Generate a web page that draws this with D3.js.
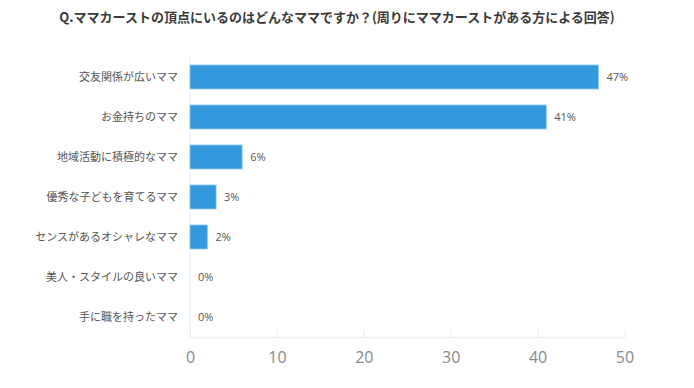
<!DOCTYPE html>
<html>
<head>
<meta charset="utf-8">
<script src="https://cdn.jsdelivr.net/npm/d3@7"></script>
<style>
  body { margin: 0; background: #fff; }
  svg { font-family: "Noto Sans CJK JP", "Noto Sans", sans-serif; }
</style>
</head>
<body>
<svg id="chart" width="694" height="388"></svg>
<script>
// Data
const categories = [
  '交友関係が広いママ',
  'お金持ちのママ',
  '地域活動に積極的なママ',
  '優秀な子どもを育てるママ',
  'センスがあるオシャレなママ',
  '美人・スタイルの良いママ',
  '手に職を持ったママ'
];
const values = [47, 41, 6, 3, 2, 0, 0];
const xTicks = [0, 10, 20, 30, 40, 50];
const title = 'Q.ママカーストの頂点にいるのはどんなママですか？(周りにママカーストがある方による回答)';

const svg = d3.select('#chart');
const margins = { left: 190, right: 70, top: 57, bottom: 51 };
const width = 694, height = 388;

const x = d3.scaleLinear().domain([0, 50]).range([margins.left, width - margins.right + 0.5]);
const y = d3.scaleBand().domain(categories).range([margins.top, height - margins.bottom])
  .paddingInner(0.4).paddingOuter(0.2);

// Title
svg.append('text')
  .attr('x', 337)
  .attr('y', 22)
  .attr('text-anchor', 'middle')
  .style('font-size', '13px')
  .style('font-weight', 'bold')
  .style('fill', '#3a3a3a')
  .text(title);

// X axis (ticks only, no grid)
const xAxis = svg.append('g')
  .attr('transform', `translate(0, ${height - margins.bottom})`)
  .call(d3.axisBottom(x).tickValues(xTicks).tickSize(0).tickPadding(15));
xAxis.select('.domain').attr('stroke', '#e6ecf4');
xAxis.selectAll('.tick text')
  .style('font-size', '16px')
  .style('fill', '#8a8a8a')
  .style('font-family', '"Open Sans", "Noto Sans", sans-serif');
xAxis.selectAll('.tick').append('line')
  .attr('y1', 0).attr('y2', -7)
  .attr('stroke', '#e6ecf4');

// Y axis line
svg.append('line')
  .attr('x1', x(0)).attr('x2', x(0))
  .attr('y1', margins.top).attr('y2', height - margins.bottom)
  .attr('stroke', '#e6ecf4');

// Category labels
svg.append('g')
  .selectAll('text')
  .data(categories)
  .join('text')
  .attr('x', 178)
  .attr('y', d => y(d) + y.bandwidth() / 2)
  .attr('dy', '0.35em')
  .attr('text-anchor', 'end')
  .style('font-size', '11px')
  .style('fill', '#555')
  .text(d => d);

// Bars
svg.append('g')
  .selectAll('rect')
  .data(values)
  .join('rect')
  .attr('x', x(0))
  .attr('y', (d, i) => y(categories[i]))
  .attr('width', d => x(d) - x(0))
  .attr('height', y.bandwidth())
  .attr('fill', '#3399de')
  .attr('stroke', d => d > 0 ? '#8ec9f0' : 'none')
  .attr('stroke-width', 0.8);

// Value labels
svg.append('g')
  .selectAll('text')
  .data(values)
  .join('text')
  .attr('x', d => x(d) + 8)
  .attr('y', (d, i) => y(categories[i]) + y.bandwidth() / 2)
  .attr('dy', '0.35em')
  .style('font-size', '11px')
  .style('fill', '#555')
  .style('font-family', '"Open Sans", "Noto Sans", sans-serif')
  .text(d => d + '%');
</script>
</body>
</html>
